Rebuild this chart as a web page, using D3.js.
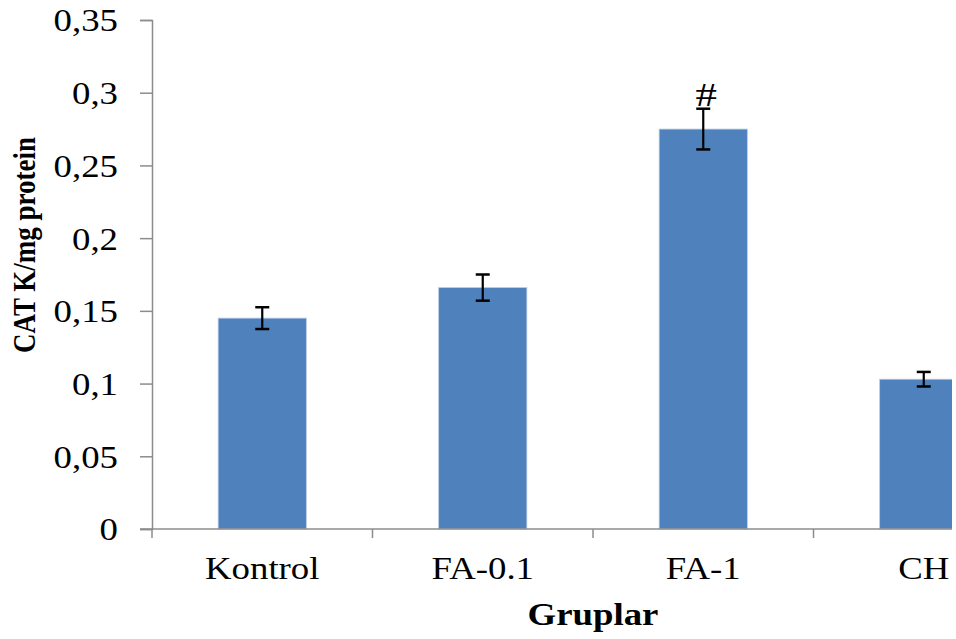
<!DOCTYPE html>
<html>
<head>
<meta charset="utf-8">
<script src="https://cdn.jsdelivr.net/npm/d3@7"></script>
<style>
  body { margin: 0; background: #fff; }
  text { font-family: "Liberation Serif", "Times New Roman", serif; fill: #000; }
</style>
</head>
<body>
<div class="chart"></div>
<script>
// data
var groups = ['Kontrol', 'FA-0.1', 'FA-1', 'CH'];
var catValues = [0.145, 0.166, 0.275, 0.103];
var catErrors = [0.0075, 0.009, 0.014, 0.005];
var marks = ['', '', '#', ''];
var yTicks = [0, 0.05, 0.1, 0.15, 0.2, 0.25, 0.3, 0.35];
var yTickLabels = ['0', '0,05', '0,1', '0,15', '0,2', '0,25', '0,3', '0,35'];

var size = {'x' : 956, 'y' : 639};
var plot = {'left' : 152, 'right' : 1034, 'top' : 20, 'bottom' : 529};
// the original picture is stretched sideways, text too
var stretch = 1.15;

var svg = d3.select('.chart')
  .append('svg')
    .attr('width', size.x)
    .attr('height', size.y);

// the picture is cut off on the right
svg.append('clipPath').attr('id', 'cut')
  .append('rect').attr('x', 0).attr('y', 0).attr('width', 952).attr('height', size.y);

var g = svg.append('g').attr('clip-path', 'url(#cut)');

//scales
var x = d3.scaleBand()
  .domain(groups)
  .range([plot.left, plot.right])
  .paddingInner(0.6)
  .paddingOuter(0.3);

var y = d3.scaleLinear()
  .domain([0, 0.35])
  .range([plot.bottom, plot.top]);

//y axis
var yAxis = d3.axisLeft(y)
  .tickValues(yTicks)
  .tickSize(12)
  .tickPadding(22)
  .tickFormat(function(d, i){ return yTickLabels[i]; });

var ya = g.append('g')
  .attr('transform', 'translate(' + plot.left + ',0)')
  .call(yAxis);
ya.select('.domain').attr('stroke', '#8c8c8c').attr('stroke-width', 1.5);
ya.selectAll('.tick line').attr('stroke', '#8c8c8c').attr('stroke-width', 1.5);
ya.selectAll('.tick text')
  .attr('x', 0)
  .attr('dy', '0.34em')
  .attr('transform', 'translate(-34,0) scale(' + stretch + ',1)')
  .style('font-size', '32px');

//bars
g.selectAll('.bar')
  .data(groups)
  .enter()
  .append('rect')
    .attr('class', 'bar')
    .attr('x', function(d){ return x(d); })
    .attr('y', function(d, i){ return y(catValues[i]); })
    .attr('width', x.bandwidth())
    .attr('height', function(d, i){ return y(0) - y(catValues[i]); })
    .attr('fill', '#4f81bd')
    .attr('stroke', '#b9cde5')
    .attr('stroke-width', 0.8);

//x axis line and boundary ticks
g.append('line')
  .attr('x1', plot.left - 12).attr('x2', plot.right)
  .attr('y1', y(0)).attr('y2', y(0))
  .attr('stroke', '#8c8c8c').attr('stroke-width', 1.5);

g.selectAll('.xtick')
  .data(d3.range(groups.length + 1))
  .enter()
  .append('line')
    .attr('class', 'xtick')
    .attr('x1', function(d){ return plot.left + d * x.step(); })
    .attr('x2', function(d){ return plot.left + d * x.step(); })
    .attr('y1', y(0))
    .attr('y2', y(0) + 9)
    .attr('stroke', '#8c8c8c').attr('stroke-width', 1.5);

g.selectAll('.xlabel')
  .data(groups)
  .enter()
  .append('text')
    .attr('class', 'xlabel')
    .attr('transform', function(d){
      return 'translate(' + (x(d) + x.bandwidth() / 2) + ',579) scale(' + stretch + ',1)';
    })
    .attr('text-anchor', 'middle')
    .style('font-size', '32px')
    .text(function(d){ return d; });

//error bars
var err = g.selectAll('.err')
  .data(groups)
  .enter()
  .append('g')
    .attr('class', 'err')
    .attr('transform', function(d){ return 'translate(' + (x(d) + x.bandwidth() / 2) + ',0)'; });

err.append('line')
  .attr('y1', function(d, i){ return y(catValues[i] + catErrors[i]); })
  .attr('y2', function(d, i){ return y(catValues[i] - catErrors[i]); })
  .attr('stroke', '#000').attr('stroke-width', 2.2);
err.append('line')
  .attr('x1', -7).attr('x2', 7)
  .attr('y1', function(d, i){ return y(catValues[i] + catErrors[i]); })
  .attr('y2', function(d, i){ return y(catValues[i] + catErrors[i]); })
  .attr('stroke', '#000').attr('stroke-width', 2.5);
err.append('line')
  .attr('x1', -7).attr('x2', 7)
  .attr('y1', function(d, i){ return y(catValues[i] - catErrors[i]); })
  .attr('y2', function(d, i){ return y(catValues[i] - catErrors[i]); })
  .attr('stroke', '#000').attr('stroke-width', 2.5);

//significance mark
err.append('text')
  .attr('transform', function(d, i){
    return 'translate(3,' + (y(catValues[i] + catErrors[i]) - 3) + ') scale(1.3,1)';
  })
  .attr('text-anchor', 'middle')
  .style('font-size', '33px')
  .text(function(d, i){ return marks[i]; });

//titles
svg.append('text')
  .attr('transform', 'translate(593,625) scale(' + stretch + ',1)')
  .attr('text-anchor', 'middle')
  .style('font-size', '32px')
  .style('font-weight', 'bold')
  .text('Gruplar');

svg.append('text')
  .attr('transform', 'translate(35,245) rotate(-90) scale(1,' + stretch + ')')
  .attr('text-anchor', 'middle')
  .style('font-size', '27px')
  .style('font-weight', 'bold')
  .text('CAT K/mg protein');
</script>
</body>
</html>
